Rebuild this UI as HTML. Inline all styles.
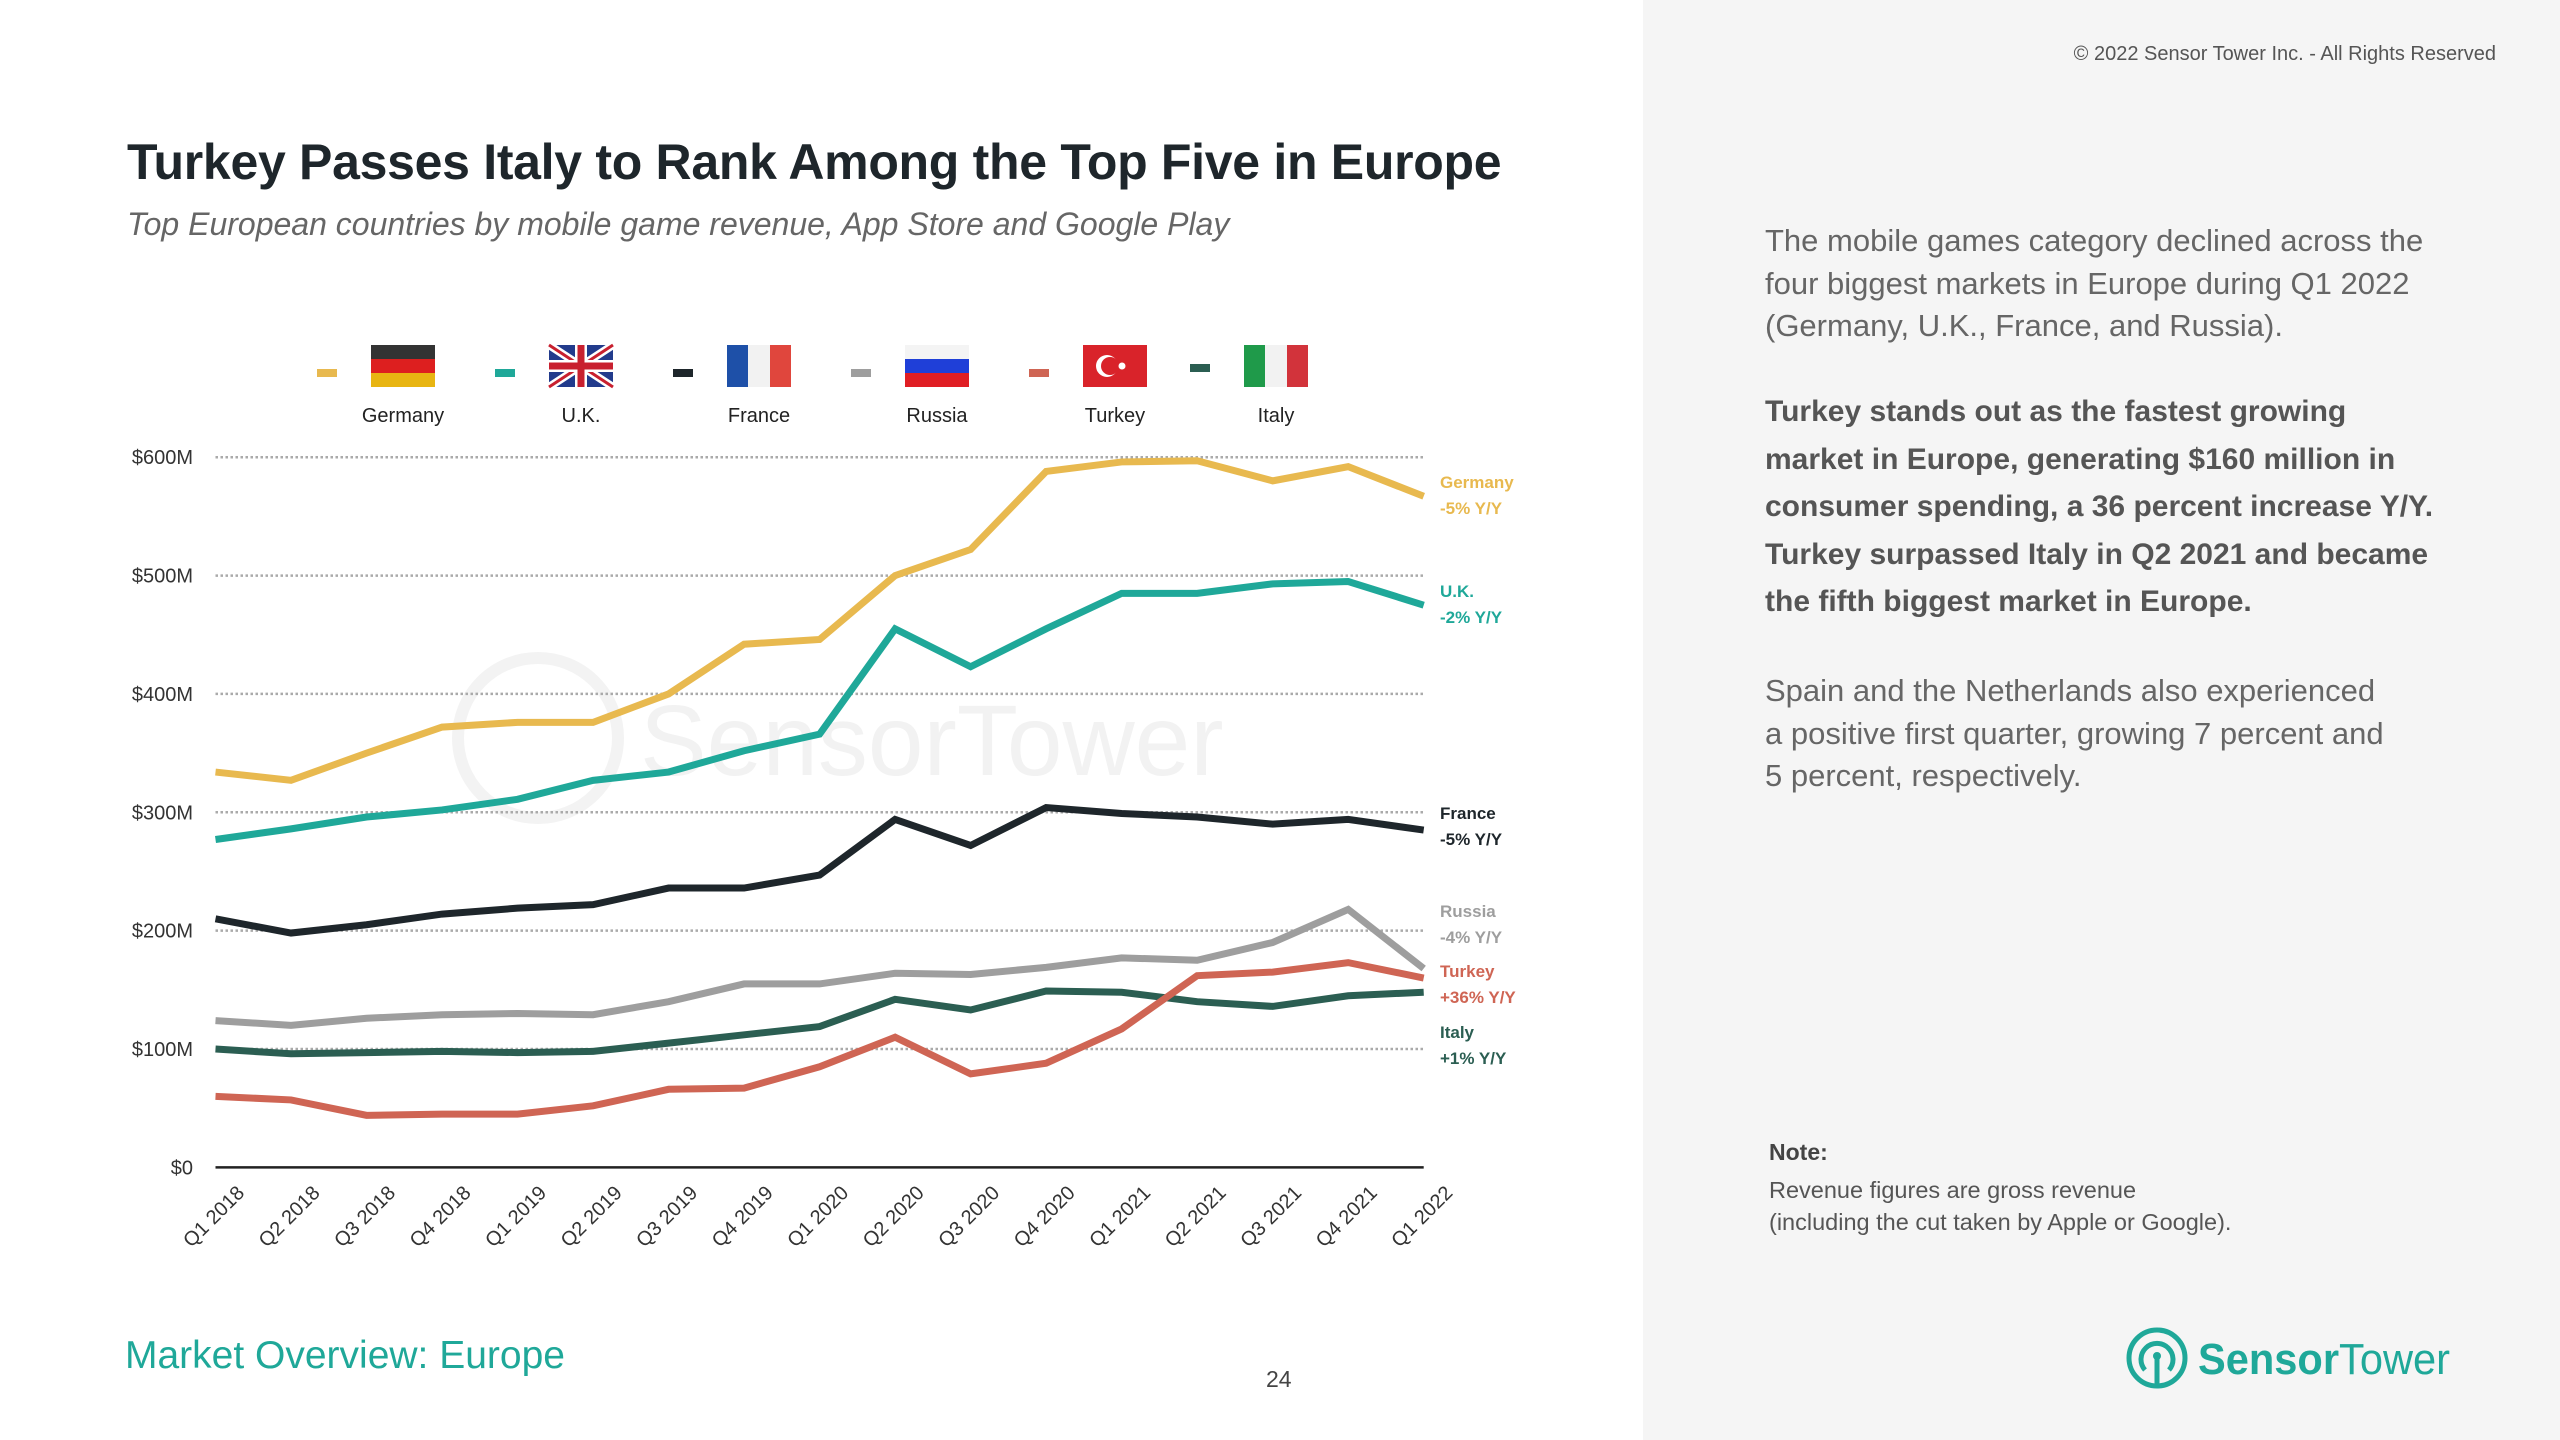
<!DOCTYPE html>
<html><head><meta charset="utf-8">
<style>
body{margin:0;width:2560px;height:1440px;position:relative;background:#fff;font-family:"Liberation Sans",sans-serif;overflow:hidden}
.abs{position:absolute;white-space:nowrap}
#right{position:absolute;left:1643px;top:0;width:917px;height:1440px;background:#f5f5f5}
.p{font-size:31px;color:#666;line-height:42.5px}
.pb{font-size:30px;color:#555;font-weight:bold;line-height:47.5px}
</style></head><body>
<div id="right"></div>
<div class="abs" style="right:64px;top:43px;font-size:20px;color:#555">© 2022 Sensor Tower Inc. - All Rights Reserved</div>
<div class="abs" style="left:127px;top:133px;font-size:50px;font-weight:bold;color:#1e262b;letter-spacing:-0.3px">Turkey Passes Italy to Rank Among the Top Five in Europe</div>
<div class="abs" style="left:127px;top:206px;font-size:32px;font-style:italic;color:#666">Top European countries by mobile game revenue, App Store and Google Play</div>
<div class="abs p" style="left:1765px;top:220px">The mobile games category declined across the<br>four biggest markets in Europe during Q1 2022<br>(Germany, U.K., France, and Russia).</div>
<div class="abs pb" style="left:1765px;top:388px">Turkey stands out as the fastest growing<br>market in Europe, generating $160 million in<br>consumer spending, a 36 percent increase Y/Y.<br>Turkey surpassed Italy in Q2 2021 and became<br>the fifth biggest market in Europe.</div>
<div class="abs p" style="left:1765px;top:670px">Spain and the Netherlands also experienced<br>a positive first quarter, growing 7 percent and<br>5 percent, respectively.</div>
<div class="abs" style="left:1769px;top:1139px;font-size:23px;font-weight:bold;color:#444">Note:</div>
<div class="abs" style="left:1769px;top:1174px;font-size:23.5px;color:#555;line-height:32px">Revenue figures are gross revenue<br>(including the cut taken by Apple or Google).</div>
<div class="abs" style="left:125px;top:1334px;font-size:39px;color:#1fa899">Market Overview: Europe</div>
<div class="abs" style="left:1266px;top:1366px;font-size:23px;color:#444">24</div>
<svg class="abs" style="left:2120px;top:1320px" width="420" height="80">
<circle cx="37" cy="38" r="28" fill="none" stroke="#1fa899" stroke-width="5"/>
<path d="M25 50 A16 16 0 1 1 49 50" fill="none" stroke="#1fa899" stroke-width="5"/>
<line x1="37" y1="36" x2="37" y2="64" stroke="#1fa899" stroke-width="5"/>
<circle cx="37" cy="36" r="4" fill="#1fa899"/>
<text x="78" y="54" font-size="44" fill="#1fa899" font-family="Liberation Sans, sans-serif" textLength="252" lengthAdjust="spacingAndGlyphs"><tspan font-weight="bold">Sensor</tspan>Tower</text>
</svg>
<svg id="chart" class="abs" style="left:0;top:0" width="1643" height="1440"></svg>
<script>
const categories=["Q1 2018","Q2 2018","Q3 2018","Q4 2018","Q1 2019","Q2 2019","Q3 2019","Q4 2019","Q1 2020","Q2 2020","Q3 2020","Q4 2020","Q1 2021","Q2 2021","Q3 2021","Q4 2021","Q1 2022"];
const germany=[334,327,350,372,376,376,400,442,446,500,522,588,596,597,580,592,567];
const uk=[277,286,296,302,311,327,334,352,366,455,423,455,485,485,493,495,475];
const france=[210,198,205,214,219,222,236,236,247,294,272,304,299,296,290,294,285];
const russia=[124,120,126,129,130,129,140,155,155,164,163,169,177,175,190,218,168];
const turkey=[60,57,44,45,45,52,66,67,85,110,79,88,117,162,165,173,160];
const italy=[100,96,97,98,97,98,105,112,119,142,133,149,148,140,136,145,148];
const yTicks=[0,100,200,300,400,500,600];
const yTickLabels=["$0","$100M","$200M","$300M","$400M","$500M","$600M"];
const seriesNames=["Germany","U.K.","France","Russia","Turkey","Italy"];
const seriesYoY=["-5% Y/Y","-2% Y/Y","-5% Y/Y","-4% Y/Y","+36% Y/Y","+1% Y/Y"];

const NS="http://www.w3.org/2000/svg";
const svg=document.getElementById('chart');
const X0=215.5,X1=1423.7,Y0=1167.4,YTOP=457.2;
const xs=i=>X0+(X1-X0)*i/(categories.length-1);
const ys=v=>Y0-(Y0-YTOP)*v/600;
function mk(t,a,p){const e=document.createElementNS(NS,t);for(const k in a)e.setAttribute(k,a[k]);(p||svg).appendChild(e);return e;}
const colors=["#e8b94f","#1fa899","#1e262b","#9e9e9e","#cf6554","#2b5e52"];
const data=[germany,uk,france,russia,turkey,italy];

const wm=mk('text',{x:640,y:775,'font-size':100,fill:'#f2f2f2','font-family':'Liberation Sans, sans-serif'});


wm.textContent='SensorTower';
const wc=mk('circle',{cx:538,cy:738,r:80,fill:'none',stroke:'#f3f3f3','stroke-width':12});



yTicks.forEach((v,i)=>{
  if(v>0){const g=mk('line',{x1:X0,x2:X1,y1:ys(v),y2:ys(v),stroke:'#aaa','stroke-width':2.5,'stroke-dasharray':'2.5 2.5'});
  
  }
  const t=mk('text',{x:193,y:ys(v)+7,'text-anchor':'end','font-size':20,fill:'#333'});
  
  
  t.textContent=yTickLabels[i];
});
const ax=mk('line',{x1:X0,x2:X1,y1:Y0,y2:Y0,stroke:'#222','stroke-width':2.5});


categories.forEach((c,i)=>{
  const lx=xs(i)+30, ly=1194;
  const t=mk('text',{x:lx,y:ly,'text-anchor':'end','font-size':20,fill:'#333',transform:`rotate(-45 ${lx} ${ly})`});
  
  
  t.textContent=c;
});
const order=[5,4,3,2,1,0];
order.forEach(s=>{
  const pts=data[s].map((v,i)=>xs(i)+','+ys(v)).join(' ');
  const pl=mk('polyline',{points:pts,fill:'none',stroke:colors[s],'stroke-width':7,'stroke-linejoin':'miter'});
  
  
});
const endY=[488,597,819,917,977,1038];
seriesNames.forEach((n,s)=>{
  const t=mk('text',{x:1440,y:endY[s],'font-size':17,'font-weight':'bold',fill:colors[s]});
  
  
  t.textContent=n;
  const t2=mk('text',{x:1440,y:endY[s]+26,'font-size':17,'font-weight':'bold',fill:colors[s]});
  
  
  t2.textContent=seriesYoY[s];
});
const legX=[403,581,759,937,1115,1276];
function flag(s,x,y){
  const g=mk('g',{transform:`translate(${x},${y})`});
  const w=64,h=42;
  if(s===0){mk('rect',{width:w,height:14,fill:'#333'},g);mk('rect',{y:14,width:w,height:14,fill:'#dd1f1f'},g);mk('rect',{y:28,width:w,height:14,fill:'#e8b512'},g);}
  if(s===1){mk('rect',{width:w,height:h,fill:'#223b8c'},g);mk('path',{d:`M0 0L${w} ${h}M${w} 0L0 ${h}`,stroke:'#fff','stroke-width':8},g);mk('path',{d:`M0 0L${w} ${h}M${w} 0L0 ${h}`,stroke:'#c8202f','stroke-width':3},g);mk('path',{d:`M${w/2} 0V${h}M0 ${h/2}H${w}`,stroke:'#fff','stroke-width':12},g);mk('path',{d:`M${w/2} 0V${h}M0 ${h/2}H${w}`,stroke:'#c8202f','stroke-width':7},g);}
  if(s===2){mk('rect',{width:21,height:h,fill:'#1e50a8'},g);mk('rect',{x:21,width:22,height:h,fill:'#f2f2f2'},g);mk('rect',{x:43,width:21,height:h,fill:'#e0463d'},g);}
  if(s===3){mk('rect',{width:w,height:14,fill:'#f4f4f4'},g);mk('rect',{y:14,width:w,height:14,fill:'#1f3fd8'},g);mk('rect',{y:28,width:w,height:14,fill:'#e01e24'},g);}
  if(s===4){mk('rect',{width:w,height:h,fill:'#d9232a'},g);mk('circle',{cx:24,cy:21,r:11,fill:'#fff'},g);mk('circle',{cx:27,cy:21,r:9,fill:'#d9232a'},g);mk('circle',{cx:39,cy:21,r:3.5,fill:'#fff'},g);}
  if(s===5){mk('rect',{width:21,height:h,fill:'#1f9a4a'},g);mk('rect',{x:21,width:22,height:h,fill:'#f2f2f2'},g);mk('rect',{x:43,width:21,height:h,fill:'#d2333b'},g);}
  return g;
}
seriesNames.forEach((n,s)=>{
  const cx=legX[s];
  const m=mk('rect',{x:cx-86,y:s===5?364:369,width:20,height:8,fill:colors[s]});
  
  
  const f=flag(s,cx-32,345);
  
  
  const t=mk('text',{x:cx,y:422,'text-anchor':'middle','font-size':20,fill:'#222'});
  
  
  t.textContent=n;
});
</script>
</body></html>
